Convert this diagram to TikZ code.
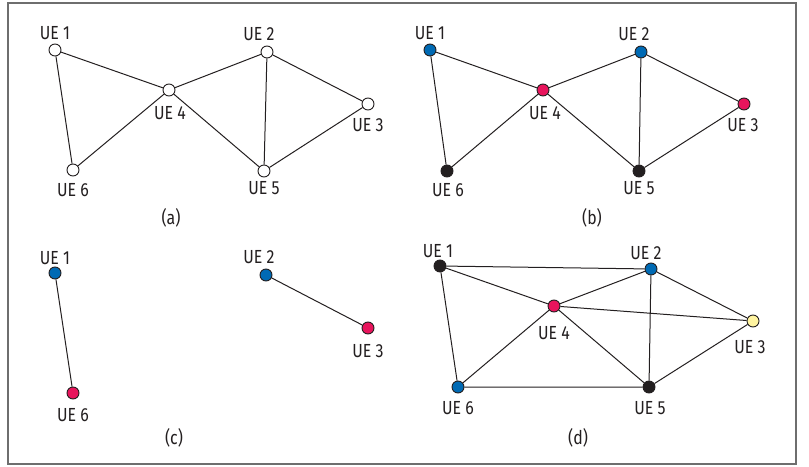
\documentclass[tikz,border=0pt]{standalone}
\usepackage{fontspec}
\setmainfont{Fira Sans}[FakeStretch=0.84]
\definecolor{ueblue}{RGB}{0,106,180}
\definecolor{uered}{RGB}{232,20,92}
\definecolor{ueblack}{RGB}{35,31,32}
\definecolor{ueyellow}{RGB}{255,244,160}
\definecolor{frame}{RGB}{110,110,110}
\begin{document}
\begin{tikzpicture}[x=1bp,y=-1bp,
  ue/.style={circle,draw=ueblack,line width=0.9bp,minimum size=12bp,inner sep=0pt,fill=white},
  blue/.style={ue,fill=ueblue},
  red/.style={ue,fill=uered},
  blk/.style={ue,fill=ueblack},
  yel/.style={ue,fill=ueyellow},
  lbl/.style={font=\fontsize{19}{19}\selectfont,text=ueblack,inner sep=0pt},
  link/.style={draw=ueblack,line width=1bp}]
\useasboundingbox (0,0) rectangle (809,467);
\draw[frame,line width=1.5bp] (8,3) rectangle (796,464);

% (a) uncoloured graph
\node[ue] (a1) at (55,50) {};
\node[ue] (a2) at (267,52) {};
\node[ue] (a3) at (368,104) {};
\node[ue] (a4) at (169,90) {};
\node[ue] (a5) at (264,171) {};
\node[ue] (a6) at (73,170) {};
\node[lbl] (la1) at (55,33) {UE 1};
\node[lbl] (la2) at (259,34) {UE 2};
\node[lbl] (la3) at (368,125) {UE 3};
\node[lbl] (la4) at (170,113) {UE 4};
\node[lbl] (la5) at (264,188) {UE 5};
\node[lbl] (la6) at (73,190) {UE 6};
\node[lbl] (capa) at (171,218) {(a)};
\draw[link] (a1) -- (a4) (a1) -- (a6) (a4) -- (a6) (a4) -- (a2)
  (a4) -- (a5) (a2) -- (a5) (a2) -- (a3) (a3) -- (a5);

% (b) three-colouring
\node[blue] (b1) at (430,50) {};
\node[blue] (b2) at (641,52) {};
\node[red]  (b3) at (744,104) {};
\node[red]  (b4) at (543,90) {};
\node[blk]  (b5) at (639,171) {};
\node[blk]  (b6) at (447,171) {};
\node[lbl] (lb1) at (430,33) {UE 1};
\node[lbl] (lb2) at (634,34) {UE 2};
\node[lbl] (lb3) at (743,125) {UE 3};
\node[lbl] (lb4) at (545,113) {UE 4};
\node[lbl] (lb5) at (639,188) {UE 5};
\node[lbl] (lb6) at (448,190) {UE 6};
\node[lbl] (capb) at (592,218) {(b)};
\draw[link] (b1) -- (b4) (b1) -- (b6) (b4) -- (b6) (b4) -- (b2)
  (b4) -- (b5) (b2) -- (b5) (b2) -- (b3) (b3) -- (b5);

% (c) remaining pairs
\node[blue] (c1) at (55,273) {};
\node[red]  (c6) at (73,393) {};
\node[blue] (c2) at (266,275) {};
\node[red]  (c3) at (368,328) {};
\node[lbl] (lc1) at (55,258) {UE 1};
\node[lbl] (lc6) at (73,415) {UE 6};
\node[lbl] (lc2) at (259,257) {UE 2};
\node[lbl] (lc3) at (368,351) {UE 3};
\node[lbl] (capc) at (174,438) {(c)};
\draw[link] (c1) -- (c6) (c2) -- (c3);

% (d) denser graph
\node[blk]  (d1) at (440,266) {};
\node[blue] (d2) at (651,269) {};
\node[yel]  (d3) at (753,321) {};
\node[red]  (d4) at (554,306) {};
\node[blk]  (d5) at (649,387) {};
\node[blue] (d6) at (458,387) {};
\node[lbl] (ld1) at (438,251) {UE 1};
\node[lbl] (ld2) at (646,253) {UE 2};
\node[lbl] (ld3) at (750,347) {UE 3};
\node[lbl] (ld4) at (554,333) {UE 4};
\node[lbl] (ld5) at (650,408) {UE 5};
\node[lbl] (ld6) at (458,408) {UE 6};
\node[lbl] (capd) at (578,438) {(d)};
\draw[link] (d1) -- (d2) (d1) -- (d4) (d1) -- (d6) (d2) -- (d4)
  (d2) -- (d3) (d2) -- (d5) (d4) -- (d3) (d4) -- (d6) (d4) -- (d5)
  (d6) -- (d5) (d5) -- (d3);
\end{tikzpicture}
\end{document}
